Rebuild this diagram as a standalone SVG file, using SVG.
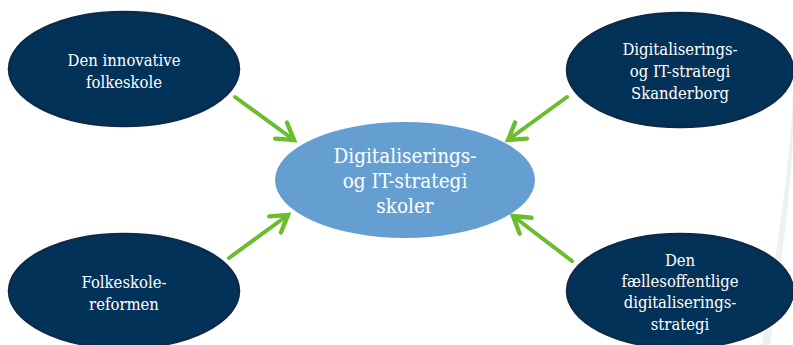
<svg xmlns="http://www.w3.org/2000/svg" width="793" height="345" viewBox="0 0 793 345">
<defs>
<style>
.outer{fill:#033259;stroke:#0d2a48;stroke-width:2.5}
.center{fill:#659fd1;stroke:none}
.t{font-family:"DejaVu Serif Condensed","DejaVu Serif","Liberation Serif",serif;font-stretch:condensed;fill:#ffffff;text-anchor:middle}
.ts{font-size:16.5px}
.tc{font-size:20.5px}
.conn{stroke:#6abd2c;stroke-width:4;fill:none;stroke-linecap:round}
</style>
<marker id="ah" viewBox="0 0 12 12" refX="10" refY="6" markerWidth="6" markerHeight="6" markerUnits="strokeWidth" orient="auto">
<path d="M2,1 L10,6 L2,11" fill="none" stroke="#6abd2c" stroke-width="2.2" stroke-linecap="round" stroke-linejoin="miter"/>
</marker>
</defs>
<rect width="793" height="345" fill="#ffffff"/>
<path d="M793,95 C790,170 775,260 762,345 L770,345 C782,260 793,180 793,120 Z" fill="#eef2ee"/>
<g id="connectors">
<line class="conn" x1="235" y1="97" x2="294" y2="140" marker-end="url(#ah)"/>
<line class="conn" x1="229" y1="258" x2="288" y2="215" marker-end="url(#ah)"/>
<line class="conn" x1="567" y1="97" x2="508" y2="140" marker-end="url(#ah)"/>
<line class="conn" x1="572" y1="261" x2="513" y2="216" marker-end="url(#ah)"/>
</g>
<g id="node-center">
<ellipse class="center" cx="405" cy="180" rx="130" ry="58"/>
<text class="t tc" x="405" y="163">Digitaliserings-</text>
<text class="t tc" x="405" y="188">og IT-strategi</text>
<text class="t tc" x="405" y="213">skoler</text>
</g>
<g id="node-tl">
<ellipse class="outer" cx="124" cy="69" rx="115" ry="57"/>
<text class="t ts" x="124" y="66">Den innovative</text>
<text class="t ts" x="124" y="88">folkeskole</text>
</g>
<g id="node-tr">
<ellipse class="outer" cx="680" cy="70" rx="113" ry="57"/>
<text class="t ts" x="680" y="55">Digitaliserings-</text>
<text class="t ts" x="680" y="77">og IT-strategi</text>
<text class="t ts" x="680" y="99">Skanderborg</text>
</g>
<g id="node-bl">
<ellipse class="outer" cx="124" cy="291" rx="115" ry="57"/>
<text class="t ts" x="124" y="288">Folkeskole-</text>
<text class="t ts" x="124" y="310">reformen</text>
</g>
<g id="node-br">
<ellipse class="outer" cx="680" cy="291" rx="113" ry="57"/>
<text class="t ts" x="680" y="266">Den</text>
<text class="t ts" x="680" y="287">fællesoffentlige</text>
<text class="t ts" x="680" y="308">digitaliserings-</text>
<text class="t ts" x="680" y="330">strategi</text>
</g>
</svg>
